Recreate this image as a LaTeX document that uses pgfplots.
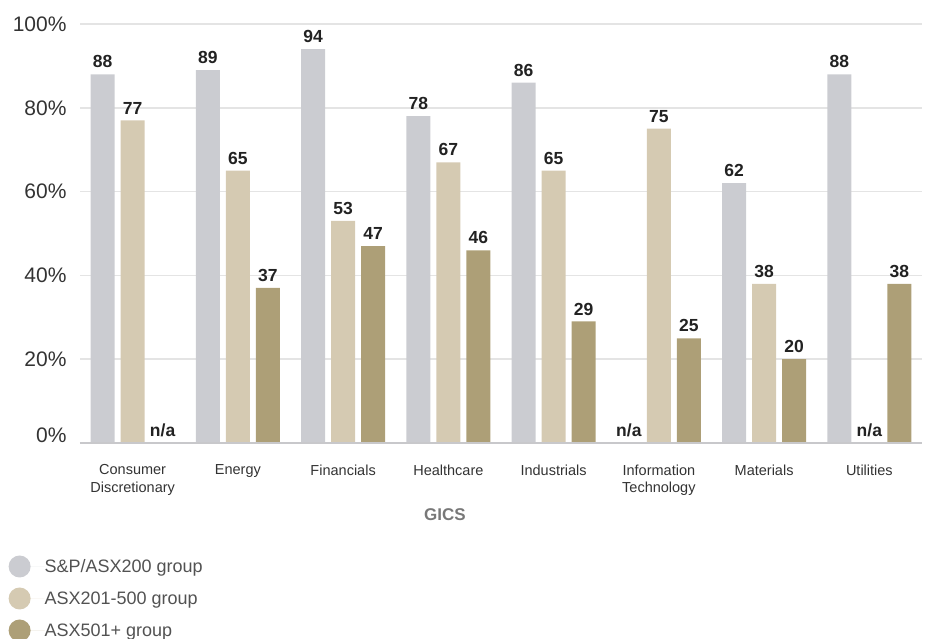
\documentclass[border=0pt]{standalone}
\usepackage{pgfplots}
\pgfplotsset{compat=1.18}
\usepackage{pgfplotstable}
\usepackage{fontspec}
\setmainfont{Liberation Sans}
\definecolor{cgrey}{RGB}{203,204,209}
\definecolor{cbeige}{RGB}{213,202,178}
\definecolor{cdark}{RGB}{173,159,119}
\definecolor{gridc}{RGB}{228,228,228}
\definecolor{basec}{RGB}{200,200,203}
\definecolor{txt}{RGB}{51,51,51}
\definecolor{lbl}{RGB}{34,34,34}
\definecolor{xl}{RGB}{120,120,120}
\pgfplotstableread{
x y lab
0 88 88
1 89 89
2 94 94
3 78 78
4 86 86
5 0 n/a
6 62 62
7 88 88
}\tabA
\pgfplotstableread{
x y lab
0 77 77
1 65 65
2 53 53
3 67 67
4 65 65
5 75 75
6 38 38
7 0 n/a
}\tabB
\pgfplotstableread{
x y lab
0 0 n/a
1 37 37
2 47 47
3 46 46
4 29 29
5 25 25
6 20 20
7 38 38
}\tabC
\begin{document}
\begin{tikzpicture}
\begin{axis}[
  at={(0,0)}, anchor=south west,
  scale only axis, width=842pt, height=419pt,
  xmin=-0.5, xmax=7.5, ymin=0, ymax=100,
  ybar, bar width=24pt,
  axis line style={draw=none},
  major tick length=0pt,
  ymajorgrids, grid style={gridc, line width=1.5pt},
  ytick={0,20,40,60,80,100},
  yticklabel={\ifdim\tick pt<1pt\raisebox{16pt}{0\%}\else\pgfmathprintnumber{\tick}\%\fi},
  /pgf/number format/assume math mode=true,
  yticklabel style={font=\fontsize{21}{21}\selectfont, text=txt, anchor=east, xshift=-10pt},
  xtick={0,...,7},
  xticklabels={Consumer\\Discretionary, Energy, Financials, Healthcare, Industrials, Information\\Technology, Materials, Utilities},
  xticklabel style={font=\fontsize{14.5}{17.5}\selectfont, text=txt, align=center, anchor=north, yshift=-18pt},
  xlabel={GICS},
  xlabel style={at={(axis description cs:0.4335,0)}, anchor=center, yshift=-72pt, font=\bfseries\fontsize{17}{17}\selectfont, text=xl},
  point meta=explicit symbolic,
  nodes near coords,
  nodes near coords style={font=\bfseries\fontsize{17.5}{17.5}\selectfont, text=lbl, anchor=south, inner sep=3pt, yshift=3pt},
  legend style={at={(-0.085,-0.268)}, anchor=north west, draw=none, fill=none, inner sep=0pt, row sep=10pt,
    font=\fontsize{18}{18}\selectfont, text=txt!85, nodes={inner sep=0pt}, /tikz/column 2/.style={column sep=0pt}},
  legend cell align=left,
  legend image code/.code={\fill[#1] (11pt,0pt) circle (11pt); \path (0pt,0pt) -- (36pt,0pt);},
]
\addplot[fill=cgrey, draw=none, bar shift=-30pt] table[x=x, y=y, meta=lab] {\tabA};
\addplot[fill=cbeige, draw=none, bar shift=0pt] table[x=x, y=y, meta=lab] {\tabB};
\addplot[fill=cdark, draw=none, bar shift=30pt] table[x=x, y=y, meta=lab] {\tabC};
\draw[basec, line width=3pt] (rel axis cs:0,0) -- (rel axis cs:1,0);
\legend{S\&P/ASX200 group, ASX201-500 group, ASX501+ group}
\end{axis}
\pgfresetboundingbox
\path (-80pt,-196pt) rectangle (848pt,443pt);
\end{tikzpicture}
\end{document}
